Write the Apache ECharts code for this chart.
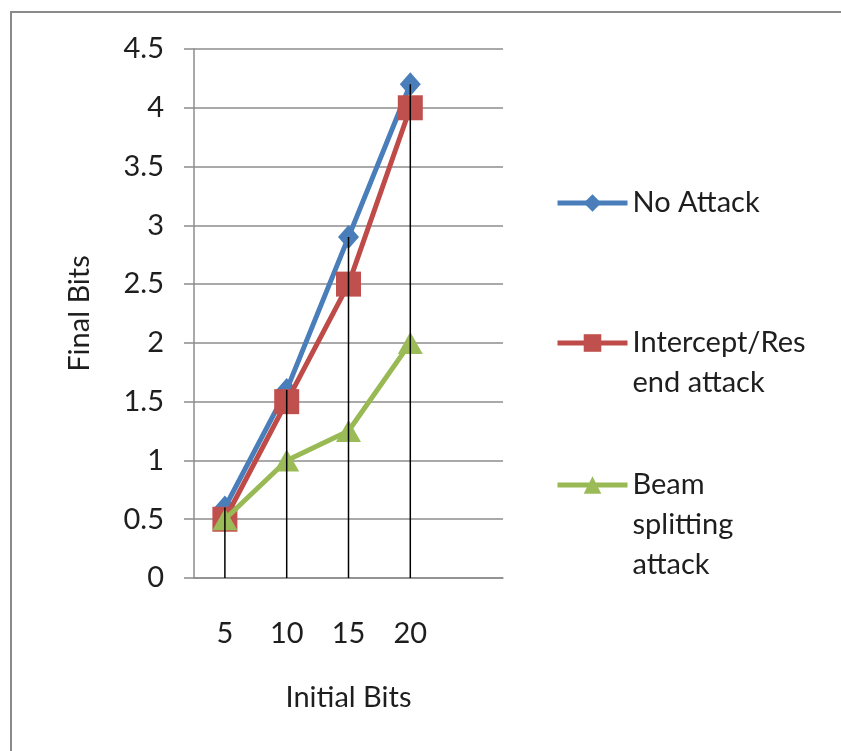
<!DOCTYPE html>
<html>
<head>
<meta charset="utf-8">
<script src="https://cdn.jsdelivr.net/npm/echarts@6/dist/echarts.min.js"></script>
<style>
html,body{margin:0;padding:0;background:#fff;}
#chart{width:841px;height:751px;}
</style>
</head>
<body>
<div id="chart"></div>
<script>
const categories = ['5', '10', '15', '20', ''];
const yTicks = [0, 0.5, 1, 1.5, 2, 2.5, 3, 3.5, 4, 4.5];
const noAttack = [0.6, 1.6, 2.9, 4.2];
const interceptResend = [0.5, 1.5, 2.5, 4];
const beamSplitting = [0.5, 1, 1.25, 2];
const seriesNames = ['No Attack', 'Intercept/Resend attack', 'Beam splitting attack'];
const legendLabels = ['No Attack', 'Intercept/Res\nend attack', 'Beam\nsplitting\nattack'];

const dropData = noAttack.map((v, i) => [i, Math.max(v, interceptResend[i], beamSplitting[i])]);

const FONT = 'Lato';
const TXT = '#1e1e1e';
const GRID = '#8c8c8c';

function legendFor(idx, top) {
  const label = legendLabels[idx];
  const n = label.split('\n').length;
  const padded = '\n'.repeat(n - 1) + label;
  return {
    data: [seriesNames[idx]],
    left: 555,
    top: top,
    orient: 'vertical',
    padding: 0,
    itemWidth: 70,
    itemHeight: 22,
    itemGap: 0,
    selectedMode: false,
    lineStyle: { width: 5 },
    formatter: () => padded,
    textStyle: { fontFamily: FONT, fontSize: 29, lineHeight: 40, color: TXT }
  };
}

const chart = echarts.init(document.getElementById('chart'));
chart.setOption({
  animation: false,
  backgroundColor: '#fff',
  graphic: [{
    type: 'rect',
    shape: { x: 11, y: 12, width: 1000, height: 1000 },
    style: { fill: 'none', stroke: '#8a8a8a', lineWidth: 2 },
    z: 0
  }],
  grid: { left: 194, right: 338, top: 49, bottom: 173, containLabel: false },
  legend: [legendFor(0, 183), legendFor(1, 283), legendFor(2, 385)],
  xAxis: {
    type: 'category',
    data: categories,
    boundaryGap: true,
    name: 'Initial Bits',
    nameLocation: 'middle',
    nameGap: 105,
    nameTextStyle: { fontFamily: FONT, fontSize: 29, color: TXT },
    axisLine: { lineStyle: { color: GRID, width: 1.5 } },
    axisTick: { show: false },
    axisLabel: { fontFamily: FONT, fontSize: 29, color: TXT, margin: 41 },
    splitLine: { show: false }
  },
  yAxis: {
    type: 'value',
    min: yTicks[0],
    max: yTicks[yTicks.length - 1],
    interval: 0.5,
    name: 'Final Bits',
    nameLocation: 'middle',
    nameGap: 100,
    nameTextStyle: { fontFamily: FONT, fontSize: 29, color: TXT },
    axisLine: { show: true, lineStyle: { color: GRID, width: 1.5 } },
    axisTick: { show: true, inside: false, length: 10, lineStyle: { color: GRID, width: 1.5 } },
    axisLabel: { fontFamily: FONT, fontSize: 29, color: TXT, margin: 30 },
    splitLine: { show: true, lineStyle: { color: GRID, width: 1.5 } }
  },
  series: [
    {
      name: seriesNames[0], type: 'line', data: noAttack,
      symbol: 'diamond', symbolSize: [21, 24],
      lineStyle: { color: '#4A7EBB', width: 5 },
      itemStyle: { color: '#4A7EBB' }, z: 3
    },
    {
      name: seriesNames[1], type: 'line', data: interceptResend,
      symbol: 'rect', symbolSize: [25, 25],
      lineStyle: { color: '#BE4B48', width: 5 },
      itemStyle: { color: '#C0504D' }, z: 4
    },
    {
      name: seriesNames[2], type: 'line', data: beamSplitting,
      symbol: 'triangle', symbolSize: [25, 22],
      lineStyle: { color: '#98B954', width: 5 },
      itemStyle: { color: '#9BBB59' }, z: 5
    },
    {
      name: 'drop', type: 'custom', data: dropData, z: 10,
      encode: { x: 0, y: 1 },
      renderItem: function (params, api) {
        const top = api.coord([api.value(0), api.value(1)]);
        const bot = api.coord([api.value(0), 0]);
        return {
          type: 'line',
          shape: { x1: top[0], y1: top[1], x2: bot[0], y2: bot[1] },
          style: { stroke: '#000', lineWidth: 1.5 }
        };
      }
    }
  ]
});
</script>
</body>
</html>
